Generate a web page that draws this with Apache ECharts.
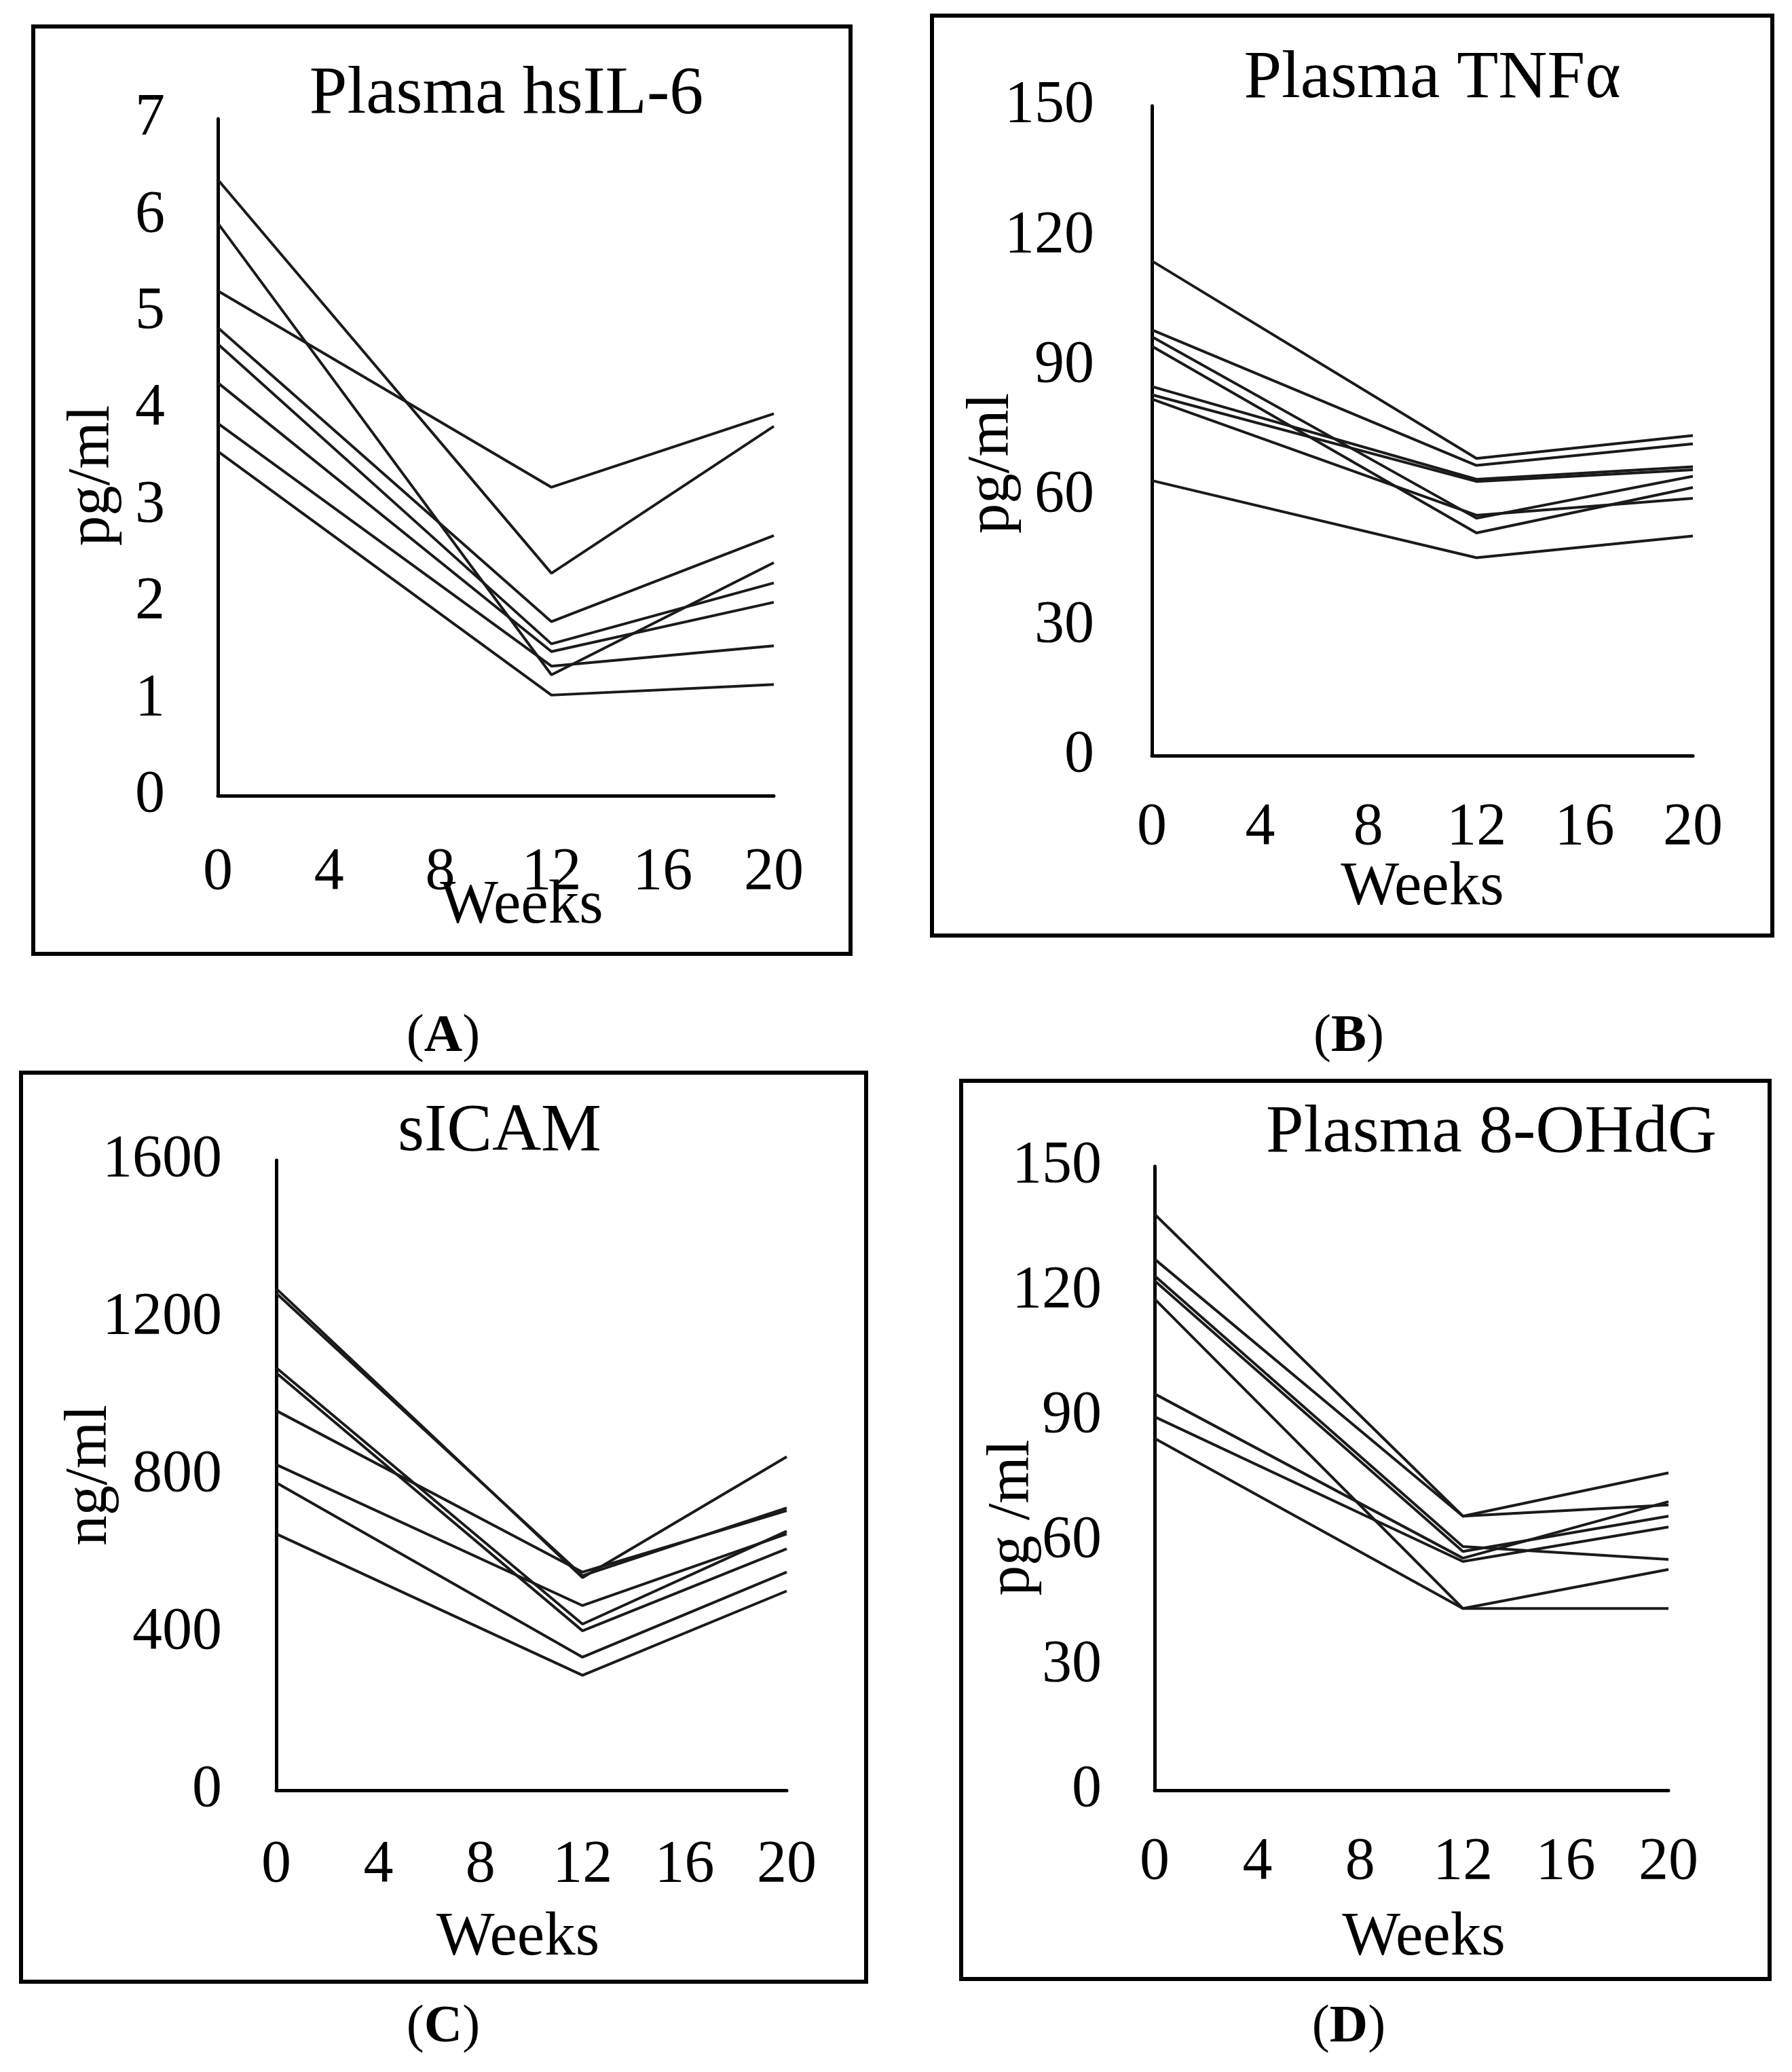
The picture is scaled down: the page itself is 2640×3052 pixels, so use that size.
<!doctype html>
<html>
<head>
<meta charset="utf-8">
<title>Inflammation markers</title>
<script src="https://cdn.jsdelivr.net/npm/echarts@6/dist/echarts.min.js"></script>
<style>
  html, body { margin: 0; padding: 0; background: #fff; }
  #main { width: 2640px; height: 3052px; }
</style>
</head>
<body>
<div id="main"></div>
<script>
// weeks of measurement
var weeks = [0, 12, 20];

// one row per subject: values at weeks 0, 12, 20
var il6Lines = [
  [6.37, 2.30, 3.82],
  [5.92, 1.25, 2.41],
  [5.22, 3.19, 3.95],
  [4.84, 1.80, 2.69],
  [4.67, 1.57, 2.20],
  [4.27, 1.49, 2.00],
  [3.85, 1.34, 1.55],
  [3.56, 1.04, 1.15]
];
var tnfLines = [
  [114.2, 68.6, 73.9],
  [98.3, 67.0, 72.0],
  [96.7, 54.8, 64.5],
  [94.5, 51.4, 61.9],
  [85.2, 63.8, 66.7],
  [83.3, 63.3, 66.0],
  [82.3, 55.5, 59.4],
  [63.5, 45.7, 50.7]
];
var icamLines = [
  [1274, 540, 847],
  [1262, 545, 717],
  [1073, 422, 658],
  [1060, 405, 613],
  [964, 554, 710],
  [827, 469, 651],
  [781, 338, 554],
  [651, 292, 506]
];
var ohdgLines = [
  [138.5, 65.9, 76.3],
  [127.7, 65.9, 68.6],
  [123.7, 58.6, 55.5],
  [122.5, 57.4, 65.9],
  [118.1, 43.7, 53.1],
  [95.3, 55.8, 69.4],
  [89.8, 55.0, 63.3],
  [84.6, 43.7, 43.7]
];

var titles = ['Plasma hsIL-6', 'Plasma TNF\u03b1', 'sICAM', 'Plasma 8-OHdG'];
var yNames = ['pg/ml', 'pg/ml', 'ng/ml', 'pg /ml'];
var yMax = [7, 150, 1600, 150];
var yStep = [1, 30, 400, 30];
var panelTags = ['A', 'B', 'C', 'D'];

var FONT = '"Liberation Serif", "Times New Roman", serif';

var panels = [
  { grid: {left: 321, top: 175, width: 819, height: 997},
    box: [49, 39, 1204, 1366], title: [746, 140], tag: [653, 1528],
    xMargin: 70, xGap: 118, xPad: [0, 0, 0, 76],
    yMargin: 78, yGap: 140, yPad: [0, 54, 0, 0] },
  { grid: {left: 1697, top: 156, width: 797, height: 957},
    box: [1373, 23, 1238, 1355], title: [2110, 117], tag: [1987, 1528],
    xMargin: 63, xGap: 150, xPad: [0, 0, 0, 0],
    yMargin: 85, yGap: 191, yPad: [0, 96, 0, 0] },
  { grid: {left: 407, top: 1709, width: 752, height: 928},
    box: [31, 1580, 1245, 1339], title: [736, 1668], tag: [653, 2987],
    xMargin: 67, xGap: 173, xPad: [0, 40, 0, 0],
    yMargin: 80, yGap: 230, yPad: [0, 0, 0, 0] },
  { grid: {left: 1701, top: 1718, width: 757, height: 919},
    box: [1416, 1592, 1191, 1323], title: [2197, 1670], tag: [1987, 2987],
    xMargin: 63, xGap: 173, xPad: [0, 0, 0, 36],
    yMargin: 78, yGap: 165, yPad: [0, 116, 0, 0] }
];

var allLines = [il6Lines, tnfLines, icamLines, ohdgLines];

var grids = [], xAxes = [], yAxes = [], series = [], graphics = [];

panels.forEach(function(p, i) {
  grids.push(p.grid);
  xAxes.push({
    type: 'value', gridIndex: i, min: 0, max: 20, interval: 4,
    name: 'Weeks', nameLocation: 'middle', nameGap: p.xGap,
    nameMoveOverlap: false,
    nameTextStyle: {fontFamily: FONT, fontSize: 91, color: '#000', padding: p.xPad},
    axisLine: {show: true, lineStyle: {color: '#000', width: 5}},
    axisTick: {show: false},
    splitLine: {show: false},
    axisLabel: {fontFamily: FONT, fontSize: 88, color: '#000', margin: p.xMargin}
  });
  yAxes.push({
    type: 'value', gridIndex: i, min: 0, max: yMax[i], interval: yStep[i],
    name: yNames[i], nameLocation: 'middle', nameGap: p.yGap,
    nameMoveOverlap: false,
    nameTextStyle: {fontFamily: FONT, fontSize: 89, color: '#000', padding: p.yPad},
    axisLine: {show: true, lineStyle: {color: '#000', width: 5}},
    axisTick: {show: false},
    splitLine: {show: false},
    axisLabel: {fontFamily: FONT, fontSize: 88, color: '#000', margin: p.yMargin,
                formatter: function(v) { return String(v); }}
  });
  allLines[i].forEach(function(row, k) {
    series.push({
      type: 'line', xAxisIndex: i, yAxisIndex: i,
      name: panelTags[i] + k,
      data: row.map(function(v, j) { return [weeks[j], v]; }),
      symbol: 'none', silent: true, animation: false,
      lineStyle: {color: '#1a1a1a', width: 4}
    });
  });

  graphics.push({
    type: 'rect',
    shape: {x: p.box[0], y: p.box[1], width: p.box[2], height: p.box[3]},
    style: {fill: 'none', stroke: '#000', lineWidth: 6}
  });
  graphics.push({
    type: 'text', x: p.title[0], y: p.title[1],
    style: {text: titles[i], fontFamily: FONT, fontSize: 100, fill: '#000',
            align: 'center', verticalAlign: 'middle'}
  });
  graphics.push({
    type: 'text', x: p.tag[0], y: p.tag[1],
    style: {
      text: '{n|(}{b|' + panelTags[i] + '}{n|)}',
      align: 'center', verticalAlign: 'middle',
      rich: {
        n: {fontFamily: FONT, fontSize: 78, fill: '#000', color: '#000'},
        b: {fontFamily: FONT, fontSize: 78, fontWeight: 'bold', fill: '#000', color: '#000'}
      }
    }
  });
});

var chart = echarts.init(document.getElementById('main'));
chart.setOption({
  backgroundColor: '#fff',
  animation: false,
  grid: grids,
  xAxis: xAxes,
  yAxis: yAxes,
  series: series,
  graphic: graphics
});
</script>
</body>
</html>
